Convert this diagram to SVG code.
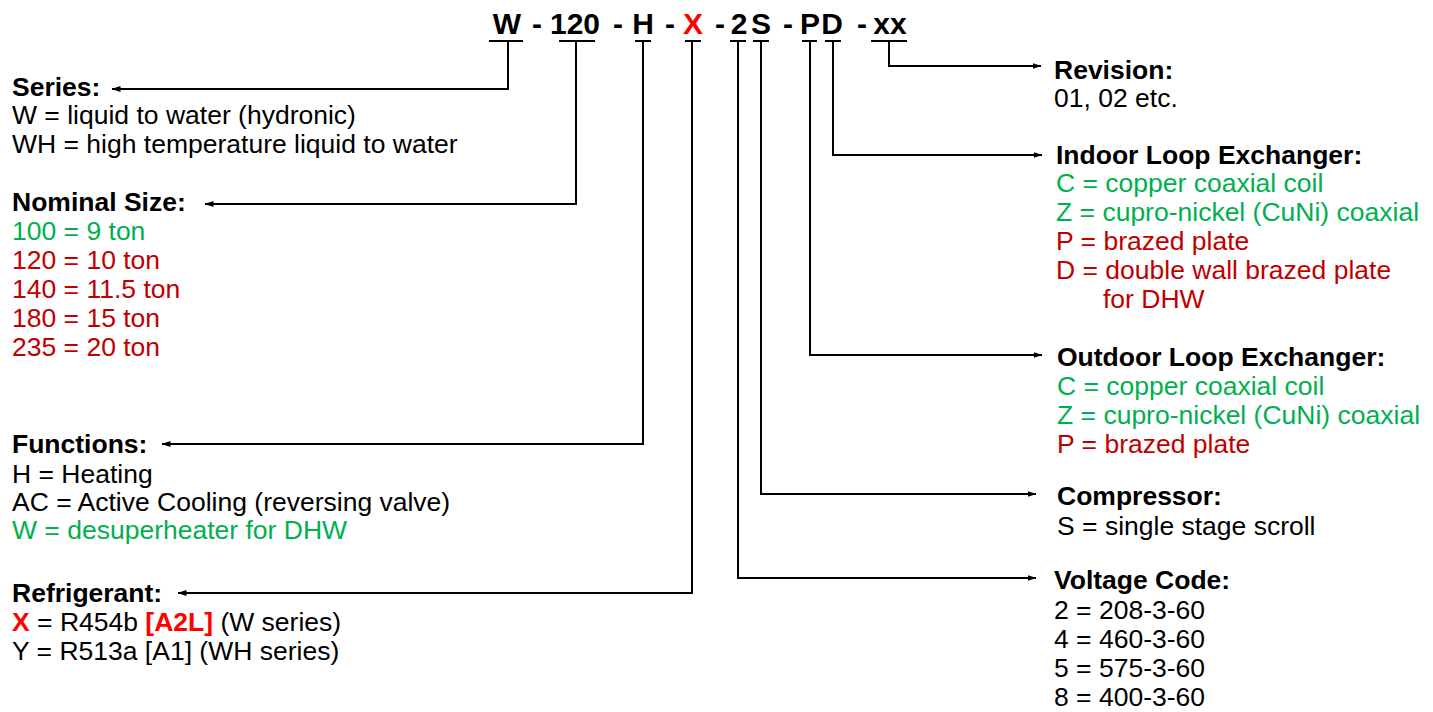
<svg xmlns="http://www.w3.org/2000/svg" width="1433" height="712" viewBox="0 0 1433 712">
<defs>
<marker id="ah" markerWidth="9" markerHeight="7" refX="8.5" refY="3.5" orient="auto" markerUnits="userSpaceOnUse">
<path d="M0,0.5 L9,3.5 L0,6.5 z" fill="#000"/>
</marker>
<style>
text{font-family:"Liberation Sans",Arial,sans-serif;font-size:26.5px;fill:#000}
.b{font-weight:bold}
.t{font-weight:bold;font-size:30px;text-anchor:middle}
.g{fill:#00B050}
.r{fill:#C00000}
.rr{fill:#FF0000}
.ul{stroke:#000;stroke-width:2;fill:none}
.c{stroke:#000;stroke-width:2;fill:none;marker-end:url(#ah)}
</style>
</defs>
<rect width="1433" height="712" fill="#fff"/>
<g id="title">
<text class="t" x="507" y="34">W</text>
<text class="t" x="537" y="34">-</text>
<text class="t" x="575" y="34">120</text>
<text class="t" x="618" y="34">-</text>
<text class="t" x="643" y="34">H</text>
<text class="t" x="670" y="34">-</text>
<text class="t rr" x="693" y="34">X</text>
<text class="t" x="720" y="34">-</text>
<text class="t" x="739" y="34">2</text>
<text class="t" x="761" y="34">S</text>
<text class="t" x="788" y="34">-</text>
<text class="t" x="810" y="34">P</text>
<text class="t" x="832" y="34">D</text>
<text class="t" x="862" y="34">-</text>
<text class="t" x="890" y="34">xx</text>
<path class="ul" d="M489,41H523M559,41H595M635,41H651M685,41H701M730,41H746M753,41H769M802,41H817M825,41H841M871,41H907"/>
</g>
<g id="connectors">
<path class="c" d="M508,41V89H112"/>
<path class="c" d="M576,41V204H205"/>
<path class="c" d="M643,41V444H162"/>
<path class="c" d="M692,41V593H178"/>
<path class="c" d="M889,41V66H1041"/>
<path class="c" d="M833,41V155H1042"/>
<path class="c" d="M810,41V355H1042"/>
<path class="c" d="M761,41V494H1036"/>
<path class="c" d="M738,41V578H1036"/>
</g>
<g id="series">
<text class="b" x="12" y="96">Series:</text>
<text x="12" y="124">W = liquid to water (hydronic)</text>
<text x="12" y="153">WH = high temperature liquid to water</text>
</g>
<g id="nominal-size">
<text class="b" x="12" y="211">Nominal Size:</text>
<text class="g" x="12" y="240">100 = 9 ton</text>
<text class="r" x="12" y="269">120 = 10 ton</text>
<text class="r" x="12" y="298">140 = 11.5 ton</text>
<text class="r" x="12" y="327">180 = 15 ton</text>
<text class="r" x="12" y="356">235 = 20 ton</text>
</g>
<g id="functions">
<text class="b" x="12" y="453">Functions:</text>
<text x="12" y="483">H = Heating</text>
<text x="12" y="511">AC = Active Cooling (reversing valve)</text>
<text class="g" x="12" y="539">W = desuperheater for DHW</text>
</g>
<g id="refrigerant">
<text class="b" x="12" y="602">Refrigerant:</text>
<text x="12" y="631"><tspan class="b rr">X</tspan> = R454b <tspan class="b rr">[A2L]</tspan> (W series)</text>
<text x="12" y="660">Y = R513a [A1] (WH series)</text>
</g>
<g id="revision">
<text class="b" x="1054" y="79">Revision:</text>
<text x="1054" y="107">01, 02 etc.</text>
</g>
<g id="indoor">
<text class="b" x="1056" y="164">Indoor Loop Exchanger:</text>
<text class="g" x="1056" y="192">C = copper coaxial coil</text>
<text class="g" x="1056" y="221">Z = cupro-nickel (CuNi) coaxial</text>
<text class="r" x="1056" y="250">P = brazed plate</text>
<text class="r" x="1056" y="279">D = double wall brazed plate</text>
<text class="r" x="1103" y="308">for DHW</text>
</g>
<g id="outdoor">
<text class="b" x="1057" y="366">Outdoor Loop Exchanger:</text>
<text class="g" x="1057" y="395">C = copper coaxial coil</text>
<text class="g" x="1057" y="424">Z = cupro-nickel (CuNi) coaxial</text>
<text class="r" x="1057" y="453">P = brazed plate</text>
</g>
<g id="compressor">
<text class="b" x="1057" y="505">Compressor:</text>
<text x="1057" y="535">S = single stage scroll</text>
</g>
<g id="voltage">
<text class="b" x="1054" y="589">Voltage Code:</text>
<text x="1054" y="619">2 = 208-3-60</text>
<text x="1054" y="648">4 = 460-3-60</text>
<text x="1054" y="677">5 = 575-3-60</text>
<text x="1054" y="706">8 = 400-3-60</text>
</g>
</svg>
